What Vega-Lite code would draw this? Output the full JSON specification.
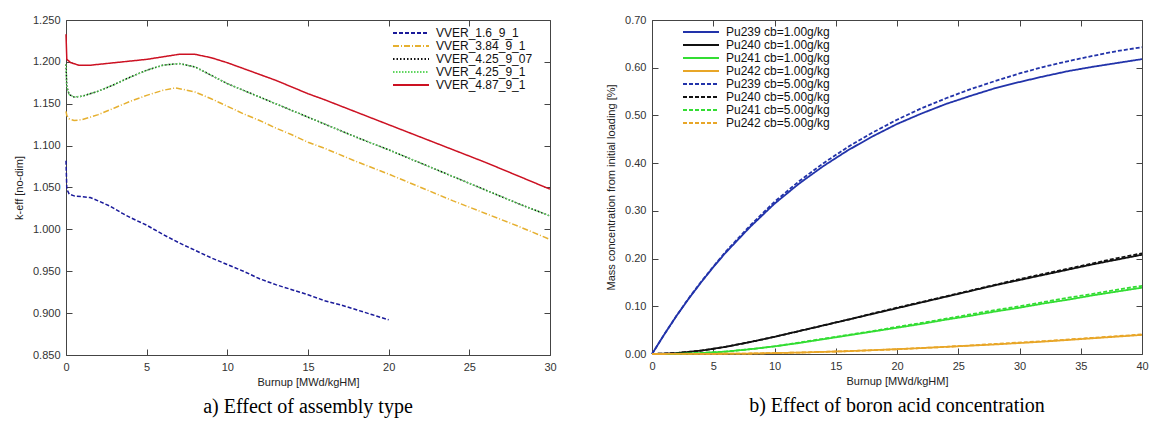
{
 "$schema": "https://vega.github.io/schema/vega-lite/v6.json",
 "background": "white",
 "padding": {"left": 12, "top": 13, "right": 5, "bottom": 0},
 "spacing": 48,
 "resolve": {"scale": {"color": "independent", "strokeDash": "independent"}, "legend": {"color": "independent", "strokeDash": "independent"}},
 "config": {
  "view": {"stroke": "#444", "strokeWidth": 1},
  "font": "Liberation Sans",
  "axis": {"labelFont": "Liberation Sans", "labelFontSize": 11, "labelColor": "#333", "titleFont": "Liberation Sans", "titleFontSize": 11, "titleFontWeight": "normal", "titleColor": "#222", "grid": false, "domain": false, "tickColor": "#444", "tickSize": -6, "labelPadding": 12, "labelFlush": false},
  "legend": {"labelFont": "Liberation Sans", "labelFontSize": 12, "labelColor": "#111", "symbolType": "M0,0H6", "symbolSize": 144, "symbolStrokeWidth": 2, "labelOffset": 36, "rowPadding": 0, "labelLimit": 300, "padding": 2},
  "title": {"font": "Liberation Serif", "fontSize": 20, "fontWeight": "normal", "color": "#000"}
 },
 "datasets": {
  "a": [
   {"x":0,"y":1.082,"s":"VVER_1.6_9_1"},{"x":0.05,"y":1.048,"s":"VVER_1.6_9_1"},{"x":0.2,"y":1.042,"s":"VVER_1.6_9_1"},{"x":0.5,"y":1.040,"s":"VVER_1.6_9_1"},{"x":1,"y":1.039,"s":"VVER_1.6_9_1"},{"x":1.5,"y":1.038,"s":"VVER_1.6_9_1"},{"x":2,"y":1.034,"s":"VVER_1.6_9_1"},{"x":2.7,"y":1.028,"s":"VVER_1.6_9_1"},{"x":3.5,"y":1.019,"s":"VVER_1.6_9_1"},{"x":4,"y":1.014,"s":"VVER_1.6_9_1"},{"x":5,"y":1.005,"s":"VVER_1.6_9_1"},{"x":6,"y":0.994,"s":"VVER_1.6_9_1"},{"x":7,"y":0.984,"s":"VVER_1.6_9_1"},{"x":8,"y":0.975,"s":"VVER_1.6_9_1"},{"x":9,"y":0.966,"s":"VVER_1.6_9_1"},{"x":10,"y":0.958,"s":"VVER_1.6_9_1"},{"x":11,"y":0.950,"s":"VVER_1.6_9_1"},{"x":12,"y":0.941,"s":"VVER_1.6_9_1"},{"x":13,"y":0.934,"s":"VVER_1.6_9_1"},{"x":14,"y":0.928,"s":"VVER_1.6_9_1"},{"x":15,"y":0.922,"s":"VVER_1.6_9_1"},{"x":16,"y":0.915,"s":"VVER_1.6_9_1"},{"x":17,"y":0.910,"s":"VVER_1.6_9_1"},{"x":18,"y":0.904,"s":"VVER_1.6_9_1"},{"x":19,"y":0.898,"s":"VVER_1.6_9_1"},{"x":20,"y":0.892,"s":"VVER_1.6_9_1"},
   {"x":0,"y":1.141,"s":"VVER_3.84_9_1"},{"x":0.05,"y":1.136,"s":"VVER_3.84_9_1"},{"x":0.2,"y":1.132,"s":"VVER_3.84_9_1"},{"x":0.5,"y":1.130,"s":"VVER_3.84_9_1"},{"x":1,"y":1.131,"s":"VVER_3.84_9_1"},{"x":2,"y":1.137,"s":"VVER_3.84_9_1"},{"x":3,"y":1.145,"s":"VVER_3.84_9_1"},{"x":4,"y":1.153,"s":"VVER_3.84_9_1"},{"x":5,"y":1.160,"s":"VVER_3.84_9_1"},{"x":6,"y":1.166,"s":"VVER_3.84_9_1"},{"x":6.8,"y":1.169,"s":"VVER_3.84_9_1"},{"x":8,"y":1.164,"s":"VVER_3.84_9_1"},{"x":9,"y":1.156,"s":"VVER_3.84_9_1"},{"x":10,"y":1.147,"s":"VVER_3.84_9_1"},{"x":11,"y":1.138,"s":"VVER_3.84_9_1"},{"x":12,"y":1.130,"s":"VVER_3.84_9_1"},{"x":13,"y":1.121,"s":"VVER_3.84_9_1"},{"x":14,"y":1.113,"s":"VVER_3.84_9_1"},{"x":15,"y":1.104,"s":"VVER_3.84_9_1"},{"x":16,"y":1.097,"s":"VVER_3.84_9_1"},{"x":18,"y":1.081,"s":"VVER_3.84_9_1"},{"x":20,"y":1.066,"s":"VVER_3.84_9_1"},{"x":22,"y":1.050,"s":"VVER_3.84_9_1"},{"x":24,"y":1.034,"s":"VVER_3.84_9_1"},{"x":26,"y":1.019,"s":"VVER_3.84_9_1"},{"x":28,"y":1.004,"s":"VVER_3.84_9_1"},{"x":30,"y":0.988,"s":"VVER_3.84_9_1"},
   {"x":0,"y":1.197,"s":"VVER_4.25_9_07"},{"x":0.05,"y":1.170,"s":"VVER_4.25_9_07"},{"x":0.2,"y":1.161,"s":"VVER_4.25_9_07"},{"x":0.5,"y":1.158,"s":"VVER_4.25_9_07"},{"x":1,"y":1.159,"s":"VVER_4.25_9_07"},{"x":2,"y":1.165,"s":"VVER_4.25_9_07"},{"x":3,"y":1.173,"s":"VVER_4.25_9_07"},{"x":4,"y":1.182,"s":"VVER_4.25_9_07"},{"x":5,"y":1.190,"s":"VVER_4.25_9_07"},{"x":6,"y":1.196,"s":"VVER_4.25_9_07"},{"x":7,"y":1.198,"s":"VVER_4.25_9_07"},{"x":8,"y":1.194,"s":"VVER_4.25_9_07"},{"x":9,"y":1.184,"s":"VVER_4.25_9_07"},{"x":10,"y":1.174,"s":"VVER_4.25_9_07"},{"x":11,"y":1.166,"s":"VVER_4.25_9_07"},{"x":12,"y":1.158,"s":"VVER_4.25_9_07"},{"x":13,"y":1.150,"s":"VVER_4.25_9_07"},{"x":14,"y":1.142,"s":"VVER_4.25_9_07"},{"x":15,"y":1.134,"s":"VVER_4.25_9_07"},{"x":16,"y":1.126,"s":"VVER_4.25_9_07"},{"x":18,"y":1.110,"s":"VVER_4.25_9_07"},{"x":20,"y":1.095,"s":"VVER_4.25_9_07"},{"x":22,"y":1.079,"s":"VVER_4.25_9_07"},{"x":24,"y":1.063,"s":"VVER_4.25_9_07"},{"x":26,"y":1.047,"s":"VVER_4.25_9_07"},{"x":28,"y":1.031,"s":"VVER_4.25_9_07"},{"x":30,"y":1.016,"s":"VVER_4.25_9_07"},
   {"x":0,"y":1.197,"s":"VVER_4.25_9_1"},{"x":0.05,"y":1.170,"s":"VVER_4.25_9_1"},{"x":0.2,"y":1.161,"s":"VVER_4.25_9_1"},{"x":0.5,"y":1.158,"s":"VVER_4.25_9_1"},{"x":1,"y":1.159,"s":"VVER_4.25_9_1"},{"x":2,"y":1.165,"s":"VVER_4.25_9_1"},{"x":3,"y":1.173,"s":"VVER_4.25_9_1"},{"x":4,"y":1.182,"s":"VVER_4.25_9_1"},{"x":5,"y":1.190,"s":"VVER_4.25_9_1"},{"x":6,"y":1.196,"s":"VVER_4.25_9_1"},{"x":7,"y":1.198,"s":"VVER_4.25_9_1"},{"x":8,"y":1.194,"s":"VVER_4.25_9_1"},{"x":9,"y":1.184,"s":"VVER_4.25_9_1"},{"x":10,"y":1.174,"s":"VVER_4.25_9_1"},{"x":11,"y":1.166,"s":"VVER_4.25_9_1"},{"x":12,"y":1.158,"s":"VVER_4.25_9_1"},{"x":13,"y":1.150,"s":"VVER_4.25_9_1"},{"x":14,"y":1.142,"s":"VVER_4.25_9_1"},{"x":15,"y":1.134,"s":"VVER_4.25_9_1"},{"x":16,"y":1.126,"s":"VVER_4.25_9_1"},{"x":18,"y":1.110,"s":"VVER_4.25_9_1"},{"x":20,"y":1.095,"s":"VVER_4.25_9_1"},{"x":22,"y":1.079,"s":"VVER_4.25_9_1"},{"x":24,"y":1.063,"s":"VVER_4.25_9_1"},{"x":26,"y":1.047,"s":"VVER_4.25_9_1"},{"x":28,"y":1.031,"s":"VVER_4.25_9_1"},{"x":30,"y":1.016,"s":"VVER_4.25_9_1"},
   {"x":0,"y":1.233,"s":"VVER_4.87_9_1"},{"x":0.05,"y":1.203,"s":"VVER_4.87_9_1"},{"x":0.3,"y":1.199,"s":"VVER_4.87_9_1"},{"x":0.8,"y":1.196,"s":"VVER_4.87_9_1"},{"x":1.5,"y":1.196,"s":"VVER_4.87_9_1"},{"x":2,"y":1.197,"s":"VVER_4.87_9_1"},{"x":3,"y":1.199,"s":"VVER_4.87_9_1"},{"x":4,"y":1.201,"s":"VVER_4.87_9_1"},{"x":5,"y":1.203,"s":"VVER_4.87_9_1"},{"x":6,"y":1.206,"s":"VVER_4.87_9_1"},{"x":7,"y":1.209,"s":"VVER_4.87_9_1"},{"x":8,"y":1.209,"s":"VVER_4.87_9_1"},{"x":9,"y":1.205,"s":"VVER_4.87_9_1"},{"x":10,"y":1.199,"s":"VVER_4.87_9_1"},{"x":11,"y":1.192,"s":"VVER_4.87_9_1"},{"x":12,"y":1.185,"s":"VVER_4.87_9_1"},{"x":13,"y":1.178,"s":"VVER_4.87_9_1"},{"x":14,"y":1.170,"s":"VVER_4.87_9_1"},{"x":15,"y":1.162,"s":"VVER_4.87_9_1"},{"x":16,"y":1.155,"s":"VVER_4.87_9_1"},{"x":18,"y":1.140,"s":"VVER_4.87_9_1"},{"x":20,"y":1.125,"s":"VVER_4.87_9_1"},{"x":22,"y":1.110,"s":"VVER_4.87_9_1"},{"x":24,"y":1.095,"s":"VVER_4.87_9_1"},{"x":26,"y":1.080,"s":"VVER_4.87_9_1"},{"x":28,"y":1.064,"s":"VVER_4.87_9_1"},{"x":30,"y":1.048,"s":"VVER_4.87_9_1"}
  ],
  "b": [
   {"x":0,"y":0,"s":"Pu239 cb=1.00g/kg"},{"x":1,"y":0.041,"s":"Pu239 cb=1.00g/kg"},{"x":2,"y":0.080,"s":"Pu239 cb=1.00g/kg"},{"x":3,"y":0.116,"s":"Pu239 cb=1.00g/kg"},{"x":4,"y":0.150,"s":"Pu239 cb=1.00g/kg"},{"x":5,"y":0.182,"s":"Pu239 cb=1.00g/kg"},{"x":6,"y":0.212,"s":"Pu239 cb=1.00g/kg"},{"x":8,"y":0.266,"s":"Pu239 cb=1.00g/kg"},{"x":10,"y":0.315,"s":"Pu239 cb=1.00g/kg"},{"x":12,"y":0.357,"s":"Pu239 cb=1.00g/kg"},{"x":14,"y":0.394,"s":"Pu239 cb=1.00g/kg"},{"x":16,"y":0.427,"s":"Pu239 cb=1.00g/kg"},{"x":18,"y":0.456,"s":"Pu239 cb=1.00g/kg"},{"x":20,"y":0.482,"s":"Pu239 cb=1.00g/kg"},{"x":22,"y":0.504,"s":"Pu239 cb=1.00g/kg"},{"x":24,"y":0.524,"s":"Pu239 cb=1.00g/kg"},{"x":26,"y":0.541,"s":"Pu239 cb=1.00g/kg"},{"x":28,"y":0.557,"s":"Pu239 cb=1.00g/kg"},{"x":30,"y":0.570,"s":"Pu239 cb=1.00g/kg"},{"x":32,"y":0.582,"s":"Pu239 cb=1.00g/kg"},{"x":34,"y":0.593,"s":"Pu239 cb=1.00g/kg"},{"x":36,"y":0.602,"s":"Pu239 cb=1.00g/kg"},{"x":38,"y":0.610,"s":"Pu239 cb=1.00g/kg"},{"x":40,"y":0.618,"s":"Pu239 cb=1.00g/kg"},
   {"x":0,"y":0,"s":"Pu240 cb=1.00g/kg"},{"x":2,"y":0.002,"s":"Pu240 cb=1.00g/kg"},{"x":4,"y":0.007,"s":"Pu240 cb=1.00g/kg"},{"x":6,"y":0.015,"s":"Pu240 cb=1.00g/kg"},{"x":8,"y":0.025,"s":"Pu240 cb=1.00g/kg"},{"x":10,"y":0.036,"s":"Pu240 cb=1.00g/kg"},{"x":12,"y":0.048,"s":"Pu240 cb=1.00g/kg"},{"x":14,"y":0.060,"s":"Pu240 cb=1.00g/kg"},{"x":16,"y":0.072,"s":"Pu240 cb=1.00g/kg"},{"x":18,"y":0.084,"s":"Pu240 cb=1.00g/kg"},{"x":20,"y":0.096,"s":"Pu240 cb=1.00g/kg"},{"x":22,"y":0.108,"s":"Pu240 cb=1.00g/kg"},{"x":24,"y":0.120,"s":"Pu240 cb=1.00g/kg"},{"x":26,"y":0.132,"s":"Pu240 cb=1.00g/kg"},{"x":28,"y":0.144,"s":"Pu240 cb=1.00g/kg"},{"x":30,"y":0.155,"s":"Pu240 cb=1.00g/kg"},{"x":32,"y":0.166,"s":"Pu240 cb=1.00g/kg"},{"x":34,"y":0.177,"s":"Pu240 cb=1.00g/kg"},{"x":36,"y":0.188,"s":"Pu240 cb=1.00g/kg"},{"x":38,"y":0.198,"s":"Pu240 cb=1.00g/kg"},{"x":40,"y":0.208,"s":"Pu240 cb=1.00g/kg"},
   {"x":0,"y":0,"s":"Pu241 cb=1.00g/kg"},{"x":2,"y":0.0005,"s":"Pu241 cb=1.00g/kg"},{"x":4,"y":0.002,"s":"Pu241 cb=1.00g/kg"},{"x":6,"y":0.005,"s":"Pu241 cb=1.00g/kg"},{"x":8,"y":0.010,"s":"Pu241 cb=1.00g/kg"},{"x":10,"y":0.016,"s":"Pu241 cb=1.00g/kg"},{"x":12,"y":0.023,"s":"Pu241 cb=1.00g/kg"},{"x":14,"y":0.031,"s":"Pu241 cb=1.00g/kg"},{"x":16,"y":0.039,"s":"Pu241 cb=1.00g/kg"},{"x":18,"y":0.047,"s":"Pu241 cb=1.00g/kg"},{"x":20,"y":0.055,"s":"Pu241 cb=1.00g/kg"},{"x":22,"y":0.063,"s":"Pu241 cb=1.00g/kg"},{"x":24,"y":0.072,"s":"Pu241 cb=1.00g/kg"},{"x":26,"y":0.080,"s":"Pu241 cb=1.00g/kg"},{"x":28,"y":0.089,"s":"Pu241 cb=1.00g/kg"},{"x":30,"y":0.097,"s":"Pu241 cb=1.00g/kg"},{"x":32,"y":0.106,"s":"Pu241 cb=1.00g/kg"},{"x":34,"y":0.114,"s":"Pu241 cb=1.00g/kg"},{"x":36,"y":0.123,"s":"Pu241 cb=1.00g/kg"},{"x":38,"y":0.131,"s":"Pu241 cb=1.00g/kg"},{"x":40,"y":0.139,"s":"Pu241 cb=1.00g/kg"},
   {"x":0,"y":0,"s":"Pu242 cb=1.00g/kg"},{"x":4,"y":0.0002,"s":"Pu242 cb=1.00g/kg"},{"x":8,"y":0.001,"s":"Pu242 cb=1.00g/kg"},{"x":12,"y":0.003,"s":"Pu242 cb=1.00g/kg"},{"x":16,"y":0.006,"s":"Pu242 cb=1.00g/kg"},{"x":20,"y":0.010,"s":"Pu242 cb=1.00g/kg"},{"x":24,"y":0.015,"s":"Pu242 cb=1.00g/kg"},{"x":28,"y":0.020,"s":"Pu242 cb=1.00g/kg"},{"x":32,"y":0.026,"s":"Pu242 cb=1.00g/kg"},{"x":36,"y":0.033,"s":"Pu242 cb=1.00g/kg"},{"x":40,"y":0.040,"s":"Pu242 cb=1.00g/kg"},
   {"x":0,"y":0,"s":"Pu239 cb=5.00g/kg"},{"x":1,"y":0.041,"s":"Pu239 cb=5.00g/kg"},{"x":2,"y":0.080,"s":"Pu239 cb=5.00g/kg"},{"x":3,"y":0.117,"s":"Pu239 cb=5.00g/kg"},{"x":4,"y":0.151,"s":"Pu239 cb=5.00g/kg"},{"x":5,"y":0.183,"s":"Pu239 cb=5.00g/kg"},{"x":6,"y":0.214,"s":"Pu239 cb=5.00g/kg"},{"x":8,"y":0.269,"s":"Pu239 cb=5.00g/kg"},{"x":10,"y":0.319,"s":"Pu239 cb=5.00g/kg"},{"x":12,"y":0.362,"s":"Pu239 cb=5.00g/kg"},{"x":14,"y":0.400,"s":"Pu239 cb=5.00g/kg"},{"x":16,"y":0.434,"s":"Pu239 cb=5.00g/kg"},{"x":18,"y":0.464,"s":"Pu239 cb=5.00g/kg"},{"x":20,"y":0.491,"s":"Pu239 cb=5.00g/kg"},{"x":22,"y":0.515,"s":"Pu239 cb=5.00g/kg"},{"x":24,"y":0.536,"s":"Pu239 cb=5.00g/kg"},{"x":26,"y":0.555,"s":"Pu239 cb=5.00g/kg"},{"x":28,"y":0.572,"s":"Pu239 cb=5.00g/kg"},{"x":30,"y":0.588,"s":"Pu239 cb=5.00g/kg"},{"x":32,"y":0.602,"s":"Pu239 cb=5.00g/kg"},{"x":34,"y":0.614,"s":"Pu239 cb=5.00g/kg"},{"x":36,"y":0.625,"s":"Pu239 cb=5.00g/kg"},{"x":38,"y":0.635,"s":"Pu239 cb=5.00g/kg"},{"x":40,"y":0.643,"s":"Pu239 cb=5.00g/kg"},
   {"x":0,"y":0,"s":"Pu240 cb=5.00g/kg"},{"x":2,"y":0.002,"s":"Pu240 cb=5.00g/kg"},{"x":4,"y":0.007,"s":"Pu240 cb=5.00g/kg"},{"x":6,"y":0.015,"s":"Pu240 cb=5.00g/kg"},{"x":8,"y":0.025,"s":"Pu240 cb=5.00g/kg"},{"x":10,"y":0.036,"s":"Pu240 cb=5.00g/kg"},{"x":12,"y":0.048,"s":"Pu240 cb=5.00g/kg"},{"x":14,"y":0.060,"s":"Pu240 cb=5.00g/kg"},{"x":16,"y":0.072,"s":"Pu240 cb=5.00g/kg"},{"x":18,"y":0.085,"s":"Pu240 cb=5.00g/kg"},{"x":20,"y":0.097,"s":"Pu240 cb=5.00g/kg"},{"x":22,"y":0.109,"s":"Pu240 cb=5.00g/kg"},{"x":24,"y":0.121,"s":"Pu240 cb=5.00g/kg"},{"x":26,"y":0.133,"s":"Pu240 cb=5.00g/kg"},{"x":28,"y":0.145,"s":"Pu240 cb=5.00g/kg"},{"x":30,"y":0.157,"s":"Pu240 cb=5.00g/kg"},{"x":32,"y":0.168,"s":"Pu240 cb=5.00g/kg"},{"x":34,"y":0.179,"s":"Pu240 cb=5.00g/kg"},{"x":36,"y":0.190,"s":"Pu240 cb=5.00g/kg"},{"x":38,"y":0.201,"s":"Pu240 cb=5.00g/kg"},{"x":40,"y":0.211,"s":"Pu240 cb=5.00g/kg"},
   {"x":0,"y":0,"s":"Pu241 cb=5.00g/kg"},{"x":2,"y":0.0005,"s":"Pu241 cb=5.00g/kg"},{"x":4,"y":0.002,"s":"Pu241 cb=5.00g/kg"},{"x":6,"y":0.005,"s":"Pu241 cb=5.00g/kg"},{"x":8,"y":0.010,"s":"Pu241 cb=5.00g/kg"},{"x":10,"y":0.016,"s":"Pu241 cb=5.00g/kg"},{"x":12,"y":0.024,"s":"Pu241 cb=5.00g/kg"},{"x":14,"y":0.032,"s":"Pu241 cb=5.00g/kg"},{"x":16,"y":0.040,"s":"Pu241 cb=5.00g/kg"},{"x":18,"y":0.048,"s":"Pu241 cb=5.00g/kg"},{"x":20,"y":0.057,"s":"Pu241 cb=5.00g/kg"},{"x":22,"y":0.065,"s":"Pu241 cb=5.00g/kg"},{"x":24,"y":0.074,"s":"Pu241 cb=5.00g/kg"},{"x":26,"y":0.083,"s":"Pu241 cb=5.00g/kg"},{"x":28,"y":0.092,"s":"Pu241 cb=5.00g/kg"},{"x":30,"y":0.100,"s":"Pu241 cb=5.00g/kg"},{"x":32,"y":0.109,"s":"Pu241 cb=5.00g/kg"},{"x":34,"y":0.118,"s":"Pu241 cb=5.00g/kg"},{"x":36,"y":0.126,"s":"Pu241 cb=5.00g/kg"},{"x":38,"y":0.135,"s":"Pu241 cb=5.00g/kg"},{"x":40,"y":0.143,"s":"Pu241 cb=5.00g/kg"},
   {"x":0,"y":0,"s":"Pu242 cb=5.00g/kg"},{"x":4,"y":0.0002,"s":"Pu242 cb=5.00g/kg"},{"x":8,"y":0.001,"s":"Pu242 cb=5.00g/kg"},{"x":12,"y":0.003,"s":"Pu242 cb=5.00g/kg"},{"x":16,"y":0.006,"s":"Pu242 cb=5.00g/kg"},{"x":20,"y":0.010,"s":"Pu242 cb=5.00g/kg"},{"x":24,"y":0.015,"s":"Pu242 cb=5.00g/kg"},{"x":28,"y":0.021,"s":"Pu242 cb=5.00g/kg"},{"x":32,"y":0.027,"s":"Pu242 cb=5.00g/kg"},{"x":36,"y":0.034,"s":"Pu242 cb=5.00g/kg"},{"x":40,"y":0.041,"s":"Pu242 cb=5.00g/kg"}
  ]
 },
 "hconcat": [
  {
   "width": 484, "height": 335,
   "title": {"text": "a) Effect of assembly type", "orient": "bottom", "offset": 10},
   "data": {"name": "a"},
   "layer": [
    {
     "mark": {"type": "line", "strokeWidth": 1.5},
     "encoding": {
      "x": {"field": "x", "type": "quantitative", "scale": {"domain": [0, 30]}, "axis": {"values": [0,5,10,15,20,25,30], "title": "Burnup [MWd/kgHM]", "titlePadding": 4}},
      "y": {"field": "y", "type": "quantitative", "scale": {"domain": [0.85, 1.25], "zero": false}, "axis": {"values": [0.85,0.9,0.95,1.0,1.05,1.1,1.15,1.2,1.25], "format": ".3f", "title": "k-eff [no-dim]", "titlePadding": 8}},
      "color": {"field": "s", "type": "nominal", "scale": {"domain": ["VVER_1.6_9_1","VVER_3.84_9_1","VVER_4.25_9_07","VVER_4.25_9_1","VVER_4.87_9_1"], "range": ["#1a1a9a","#e6b030","#111111","#5fd65f","#cc1122"]}, "legend": {"title": null, "orient": "none", "legendX": 318, "legendY": 4}},
      "strokeDash": {"field": "s", "type": "nominal", "scale": {"domain": ["VVER_1.6_9_1","VVER_3.84_9_1","VVER_4.25_9_07","VVER_4.25_9_1","VVER_4.87_9_1"], "range": [[4,2],[6,2,1,2],[1.5,2],[1.5,1.5],[1,0]]}, "legend": {"title": null, "orient": "none", "legendX": 318, "legendY": 4}}
     }
    },
    {
     "mark": {"type": "point", "opacity": 0},
     "encoding": {
      "x": {"field": "x", "type": "quantitative", "axis": {"orient": "top", "values": [0,5,10,15,20,25,30], "labels": false, "title": null}},
      "y": {"field": "y", "type": "quantitative", "axis": {"orient": "right", "values": [0.85,0.9,0.95,1.0,1.05,1.1,1.15,1.2,1.25], "labels": false, "title": null}}
     }
    }
   ],
   "resolve": {"axis": {"x": "independent", "y": "independent"}}
  },
  {
   "width": 490, "height": 334,
   "title": {"text": "b) Effect of boron acid concentration", "orient": "bottom", "offset": 10},
   "data": {"name": "b"},
   "layer": [
    {
     "mark": {"type": "line", "strokeWidth": 1.8},
     "encoding": {
      "x": {"field": "x", "type": "quantitative", "scale": {"domain": [0, 40]}, "axis": {"values": [0,5,10,15,20,25,30,35,40], "title": "Burnup [MWd/kgHM]", "titlePadding": 4}},
      "y": {"field": "y", "type": "quantitative", "scale": {"domain": [0, 0.7]}, "axis": {"values": [0,0.1,0.2,0.3,0.4,0.5,0.6,0.7], "format": ".2f", "title": "Mass concentration from initial loading [%]", "titlePadding": 8}},
      "color": {"field": "s", "type": "nominal", "scale": {"domain": ["Pu239 cb=1.00g/kg","Pu240 cb=1.00g/kg","Pu241 cb=1.00g/kg","Pu242 cb=1.00g/kg","Pu239 cb=5.00g/kg","Pu240 cb=5.00g/kg","Pu241 cb=5.00g/kg","Pu242 cb=5.00g/kg"], "range": ["#2233aa","#111111","#33dd33","#e8a628","#2233aa","#111111","#33dd33","#e8a628"]}, "legend": {"title": null, "orient": "none", "legendX": 22, "legendY": 3}},
      "strokeDash": {"field": "s", "type": "nominal", "scale": {"domain": ["Pu239 cb=1.00g/kg","Pu240 cb=1.00g/kg","Pu241 cb=1.00g/kg","Pu242 cb=1.00g/kg","Pu239 cb=5.00g/kg","Pu240 cb=5.00g/kg","Pu241 cb=5.00g/kg","Pu242 cb=5.00g/kg"], "range": [[1,0],[1,0],[1,0],[1,0],[4,2],[4,2],[4,2],[4,2]]}, "legend": {"title": null, "orient": "none", "legendX": 22, "legendY": 3}}
     }
    },
    {
     "mark": {"type": "point", "opacity": 0},
     "encoding": {
      "x": {"field": "x", "type": "quantitative", "axis": {"orient": "top", "values": [0,5,10,15,20,25,30,35,40], "labels": false, "title": null}},
      "y": {"field": "y", "type": "quantitative", "axis": {"orient": "right", "values": [0,0.1,0.2,0.3,0.4,0.5,0.6,0.7], "labels": false, "title": null}}
     }
    }
   ],
   "resolve": {"axis": {"x": "independent", "y": "independent"}}
  }
 ]
}
